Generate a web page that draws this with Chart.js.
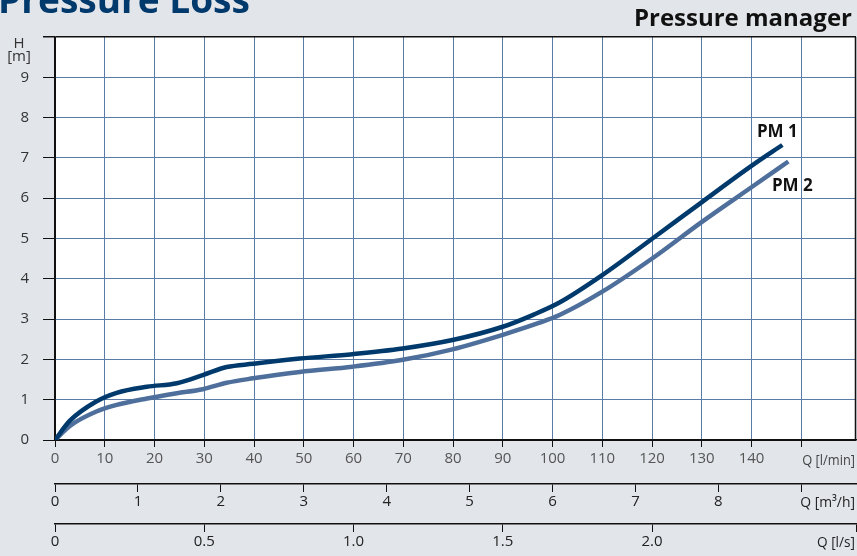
<!DOCTYPE html>
<html>
<head>
<meta charset="utf-8">
<script src="https://cdn.jsdelivr.net/npm/chart.js@4/dist/chart.umd.min.js"></script>
<style>
    body { margin: 0; background: #e2e5ea; }
    #wrap { width: 857px; height: 556px; position: relative; }
</style>
</head>
<body>
<div id="wrap"><canvas id="chart"></canvas></div>
<script>
// flow in l/min, head in m
var pm1Flow = [0, 3, 8.2, 12.4, 18.5, 24.5, 29.7, 34.5, 39.8, 49.2, 59.8, 69.9, 79.9, 90, 96, 101.4, 110, 120.1, 130.1, 140.2, 146.2];
var pm1Head = [0, 0.48, 0.95, 1.17, 1.32, 1.41, 1.61, 1.81, 1.89, 2.02, 2.13, 2.27, 2.48, 2.81, 3.1, 3.41, 4.09, 5.0, 5.91, 6.82, 7.32];
var pm2Flow = [0, 3, 8.2, 12.4, 18.5, 24.5, 29.7, 34.5, 39.8, 49.2, 59.8, 69.9, 79.9, 90, 97.4, 101.4, 110, 120.1, 130.1, 140.2, 147.4];
var pm2Head = [0, 0.35, 0.70, 0.87, 1.03, 1.16, 1.26, 1.42, 1.53, 1.69, 1.82, 1.99, 2.25, 2.61, 2.91, 3.10, 3.68, 4.51, 5.42, 6.29, 6.91];
var seriesNames = ["PM 1", "PM 2"];

var flowMax = 161; // l/min at right edge
var unitLabels = { x: "Q [l/min]", x2: "Q [m\u00b3/h]", x3: "Q [l/s]" };

function toPoints(xs, ys) {
    return xs.map((x, i) => ({ x: x, y: ys[i] }));
}

var fontFam = "'Open Sans', 'Noto Sans', sans-serif";

const decorations = {
    id: "decorations",
    beforeDraw(chart) {
        const ctx = chart.ctx, a = chart.chartArea;
        ctx.save();
        ctx.fillStyle = "#e2e5ea";
        ctx.fillRect(0, 0, chart.width, chart.height);
        ctx.fillStyle = "#ffffff";
        ctx.fillRect(a.left, a.top, a.right - a.left, a.bottom - a.top);
        ctx.restore();
    },
    afterDraw(chart) {
        const ctx = chart.ctx, a = chart.chartArea;
        ctx.save();
        ctx.strokeStyle = "#111";
        ctx.lineWidth = 1.5;
        ctx.beginPath();
        ctx.moveTo(a.right - 0.5, a.top);
        ctx.lineTo(a.right - 0.5, a.bottom);
        ctx.stroke();

        // titles
        ctx.fillStyle = "#00396c";
        ctx.font = "bold 37px " + fontFam;
        ctx.textAlign = "left";
        ctx.textBaseline = "alphabetic";
        ctx.fillText("Pressure Loss", -2, 13);
        ctx.fillStyle = "#111";
        ctx.font = "bold 24px " + fontFam;
        ctx.textAlign = "right";
        ctx.fillText("Pressure manager", 852, 26);

        // y unit
        ctx.font = "15px " + fontFam;
        ctx.textAlign = "center";
        ctx.textBaseline = "middle";
        ctx.fillStyle = "#333";
        ctx.fillText("H", 19, 44);
        ctx.fillText("[m]", 19, 57);

        // x units (squeezed to the space left at the right edge)
        const sx = chart.scales.x, sx2 = chart.scales.x2;
        ctx.font = "15px " + fontFam;
        ctx.textAlign = "left";
        ctx.fillStyle = "#444";
        var x1 = sx.getPixelForValue(150) + 1;
        ctx.fillText(unitLabels.x, x1, 461, 855 - x1);
        ctx.fillStyle = "#222";
        var x2 = sx2.getPixelForValue(9) - 1;
        ctx.fillText(unitLabels.x2, x2, 503, 855 - x2);
        ctx.textAlign = "right";
        ctx.fillText(unitLabels.x3, 855, 543, 38);

        // series labels
        ctx.font = "bold 17px " + fontFam;
        ctx.textAlign = "center";
        ctx.fillStyle = "#111";
        const sy = chart.scales.y;
        const n1 = pm1Flow.length - 1, n2 = pm2Flow.length - 1;
        ctx.fillText(seriesNames[0], sx.getPixelForValue(pm1Flow[n1]) - 5, sy.getPixelForValue(pm1Head[n1]) - 13);
        ctx.fillText(seriesNames[1], sx.getPixelForValue(pm2Flow[n2]) + 4, sy.getPixelForValue(pm2Head[n2]) + 25);
        ctx.restore();
    }
};

new Chart("chart", {
    type: "line",
    data: {
        datasets: [
            {
                label: seriesNames[0],
                data: toPoints(pm1Flow, pm1Head),
                borderColor: "#003a6c",
                borderWidth: 4.5,
                pointRadius: 0,
                cubicInterpolationMode: "monotone",
                borderCapStyle: "butt"
            },
            {
                label: seriesNames[1],
                data: toPoints(pm2Flow, pm2Head),
                borderColor: "#4e6f9b",
                borderWidth: 4.5,
                pointRadius: 0,
                cubicInterpolationMode: "monotone",
                borderCapStyle: "butt"
            }
        ]
    },
    options: {
        responsive: true,
        maintainAspectRatio: false,
        animation: false,
        layout: { padding: { top: 37, right: 1, bottom: 0, left: 0 } },
        plugins: { legend: { display: false }, tooltip: { enabled: false } },
        scales: {
            x: {
                type: "linear",
                position: "bottom",
                weight: 0,
                min: 0,
                max: flowMax,
                afterBuildTicks: (s) => { s.ticks = s.ticks.filter(t => t.value <= 150); },
                afterFit: (s) => { s.height = 44; },
                ticks: {
                    stepSize: 10,
                    padding: 3,
                    color: "#555",
                    font: { family: fontFam, size: 15 },
                    callback: (v) => v >= 150 ? "" : v
                },
                grid: {
                    color: (c) => c.tick && c.tick.value === 0 ? "#111" : "#5a7ba6",
                    tickColor: "#111",
                    tickLength: 7,
                    lineWidth: 1
                },
                border: { display: true, color: "#111", width: 1.5 }
            },
            x2: {
                type: "linear",
                position: "bottom",
                weight: 1,
                min: 0,
                max: flowMax / (1000 / 60),
                afterBuildTicks: (s) => { s.ticks = s.ticks.filter(t => t.value <= 9); },
                afterFit: (s) => { s.height = 40; },
                ticks: {
                    stepSize: 1,
                    padding: 1,
                    color: "#222",
                    font: { family: fontFam, size: 15 },
                    callback: (v) => v >= 9 ? "" : v
                },
                grid: { drawOnChartArea: false, tickColor: "#111", tickLength: 8 },
                border: { display: true, color: "#111", width: 1.5 }
            },
            x3: {
                type: "linear",
                position: "bottom",
                weight: 2,
                min: 0,
                max: flowMax / 60,
                afterFit: (s) => { s.height = 32; },
                ticks: {
                    stepSize: 0.5,
                    padding: 1,
                    color: "#222",
                    font: { family: fontFam, size: 15 },
                    callback: (v) => v === 0 ? "0" : (v >= 2.5 ? "" : v.toFixed(1))
                },
                grid: { drawOnChartArea: false, tickColor: "#111", tickLength: 8 },
                border: { display: true, color: "#111", width: 1.5 }
            },
            y: {
                min: 0,
                max: 10,
                afterFit: (s) => { s.width = 55; },
                ticks: {
                    stepSize: 1,
                    padding: 14,
                    color: "#333",
                    font: { family: fontFam, size: 15 },
                    callback: (v) => v >= 10 ? "" : v
                },
                grid: {
                    color: (c) => c.tick && (c.tick.value === 10 || c.tick.value === 0) ? "#111" : "#5a7ba6",
                    tickColor: "#111",
                    tickLength: 12,
                    lineWidth: (c) => c.tick && c.tick.value === 10 ? 1.5 : 1
                },
                border: { display: true, color: "#111", width: 1.5 }
            }
        }
    },
    plugins: [decorations]
});
</script>
</body>
</html>
